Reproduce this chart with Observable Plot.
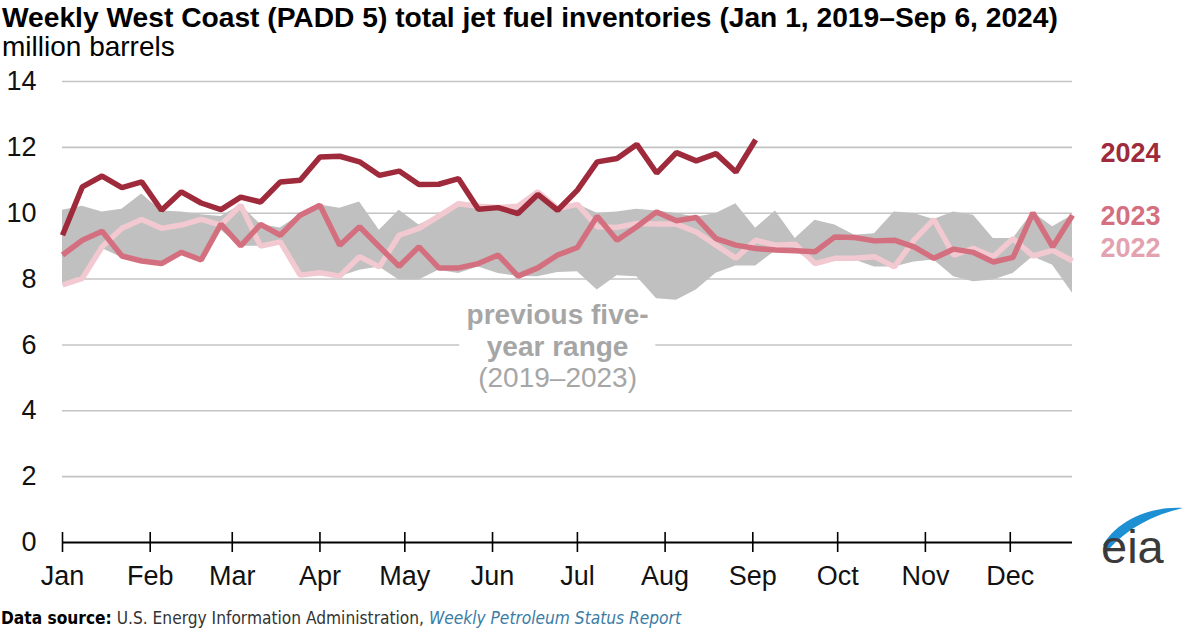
<!DOCTYPE html>
<html>
<head>
<meta charset="utf-8">
<script src="https://cdn.jsdelivr.net/npm/d3@7"></script>
<script src="https://cdn.jsdelivr.net/npm/@observablehq/plot@0.6"></script>
<style>
html, body { margin: 0; padding: 0; background: #fff; }
body { width: 1187px; height: 632px; position: relative; overflow: hidden; font-family: "Liberation Sans", Arial, sans-serif; }
#title { position: absolute; left: 2px; top: 3px; font-size: 28.2px; font-weight: bold; line-height: 29px; color: #000; white-space: nowrap; }
#subtitle { position: absolute; left: 2px; top: 32px; font-size: 28px; line-height: 29px; color: #000; white-space: nowrap; }
#chart { position: absolute; left: 0; top: 61px; }
#source { position: absolute; left: 1px; top: 607px; font-family: "Liberation Sans Narrow", "DejaVu Sans Condensed", "Roboto Condensed", "DejaVu Sans", sans-serif; font-size: 17.2px; line-height: 22px; color: #333; white-space: nowrap; }
#source b { color: #000; }
#source i { color: #3a7ca5; }
#logo { position: absolute; left: 1101px; top: 524px; font-size: 47px; line-height: 46px; color: #3a3a3a; }
#swoosh { position: absolute; left: 0; top: 0; }
</style>
</head>
<body>
<div id="title">Weekly West Coast (PADD 5) total jet fuel inventories (Jan 1, 2019–Sep 6, 2024)</div>
<div id="subtitle">million barrels</div>
<div id="chart"></div>
<div id="source"><b>Data source:</b> U.S. Energy Information Administration, <i>Weekly Petroleum Status Report</i></div>
<svg id="swoosh" width="1187" height="632"><path d="M1103,545 C1118,520 1150,506 1183,508 C1152,515 1127,529 1109,549 Z" fill="#1d8fd3"/></svg>
<div id="logo">eia</div>
<script>
// ---- data (million barrels, weekly) ----
const series2024 = [9.33,10.80,11.13,10.78,10.95,10.09,10.65,10.31,10.11,10.49,10.34,10.95,11.00,
  11.71,11.73,11.56,11.15,11.28,10.87,10.88,11.05,10.12,10.17,9.99,10.57,10.09,
  10.70,11.56,11.66,12.09,11.22,11.84,11.59,11.81,11.25,12.23];
const series2023 = [8.73,9.18,9.45,8.70,8.55,8.47,8.81,8.58,9.67,9.01,9.66,9.33,9.94,
  10.24,9.03,9.59,8.98,8.39,8.98,8.34,8.34,8.47,8.73,8.09,8.34,8.73,
  8.96,9.91,9.18,9.59,10.04,9.77,9.87,9.23,9.03,8.93,8.88,8.86,
  8.83,9.28,9.26,9.16,9.18,8.98,8.63,8.91,8.81,8.52,8.66,10.01,8.98,9.94];
const series2022 = [7.82,8.02,8.98,9.54,9.81,9.54,9.64,9.81,9.64,10.24,9.00,9.13,8.12,
  8.19,8.09,8.68,8.37,9.33,9.54,9.91,10.29,10.21,10.17,10.21,10.65,10.14,
  10.27,9.59,9.57,9.69,9.67,9.67,9.43,9.03,8.63,9.18,9.03,9.06,
  8.47,8.63,8.63,8.68,8.37,9.18,9.81,8.73,8.93,8.68,9.23,8.70,8.87,8.55];
const rangeHigh = [10.09,10.21,10.04,10.12,10.58,10.07,10.04,9.95,9.90,10.25,9.66,9.55,9.95,
  10.25,10.15,10.34,9.48,10.09,9.64,9.94,10.29,10.21,10.17,10.21,10.65,10.14,
  10.27,10.00,10.04,10.12,10.07,9.99,9.88,9.99,10.29,9.54,10.07,9.23,9.79,
  9.64,9.33,9.38,10.04,9.99,9.81,10.04,9.94,9.23,9.23,10.02,9.59,9.94];
const rangeLow = [7.82,8.00,8.93,8.65,8.50,8.47,8.80,8.58,9.48,9.00,9.00,9.13,8.05,
  8.17,8.07,8.27,8.37,7.97,7.97,8.27,8.17,8.37,8.17,8.08,8.07,8.20,
  8.22,7.67,8.10,8.07,7.40,7.36,7.67,8.18,8.40,8.40,8.85,8.85,8.47,
  8.63,8.58,8.37,8.37,8.52,8.58,8.07,7.92,7.97,8.17,8.68,8.42,7.57];
const seriesNames = ["2022", "2023", "2024"];
const seriesColors = ["#f3c9d1", "#d46f7f", "#9e2a3b"];
const labelColors = ["#e3a2b0", "#d46f7f", "#9e2a3b"];
const labelValues = [8.94, 9.91, 11.82];
const monthLabels = ["Jan","Feb","Mar","Apr","May","Jun","Jul","Aug","Sep","Oct","Nov","Dec"];
const yTicks = [0, 2, 4, 6, 8, 10, 12, 14];
const yTickLabels = ["0", "2", "4", "6", "8", "10", "12", "14"];
const noteBold = ["previous five-", "year range"];
const noteRegular = ["(2019–2023)"];
const noteValues = [6.91, 5.94, 5.0];

// ---- derived tables ----
const start = Date.UTC(2024, 0, 1);
const weekDate = (i) => d3.utcDay.offset(new Date(start), 7 * i);
const weeks = d3.range(52).map(weekDate);
const bandRows = weeks.map((d, i) => ({date: d, low: rangeLow[i], high: rangeHigh[i]}));
const allSeries = [series2022, series2023, series2024];
const lineRows = allSeries.flatMap((s, k) => s.map((v, i) => ({date: weeks[i], value: v, year: seriesNames[k]})));
const monthDates = d3.utcMonth.range(new Date(start), new Date(Date.UTC(2025, 0, 1)));
const noteX = new Date(Date.UTC(2024, 5, 24));
const labelRows = seriesNames.map((n, k) => ({name: n, value: labelValues[k], color: labelColors[k]}));
const boldRows = noteBold.map((t, i) => ({text: t, value: noteValues[i]}));
const regRows = noteRegular.map((t, i) => ({text: t, value: noteValues[2 + i]}));
const lastWeek = weeks[weeks.length - 1];

const chart = Plot.plot({
  width: 1187,
  height: 533,
  marginLeft: 62,
  marginRight: 115,
  marginTop: 20,
  marginBottom: 52,
  x: {type: "utc", domain: [weeks[0], lastWeek], label: null},
  y: {domain: [0, 14], label: null},
  color: {domain: seriesNames, range: seriesColors},
  style: {fontFamily: "'Liberation Sans', Arial, sans-serif", background: "white", overflow: "visible"},
  marks: [
    Plot.ruleY(yTicks.filter((d) => d > 0), {stroke: "#c4c4c4", strokeWidth: 1.6}),
    Plot.areaY(bandRows, {x: "date", y1: "low", y2: "high", fill: "#c0c0c0", curve: "linear"}),
    // white halos behind the annotation
    Plot.text(boldRows, {x: () => noteX, y: "value", text: "text", fontSize: 28, fontWeight: "bold", fill: "white", stroke: "white", strokeWidth: 20, strokeLinejoin: "round"}),
    Plot.text(boldRows.slice(1), {x: () => noteX, y: "value", text: "text", fontSize: 28, fontWeight: "bold", fill: "white", stroke: "white", strokeWidth: 56, strokeLinejoin: "round"}),
    Plot.text(regRows, {x: () => noteX, y: "value", text: "text", fontSize: 28, fill: "white", stroke: "white", strokeWidth: 20, strokeLinejoin: "round"}),
    Plot.text(boldRows, {x: () => noteX, y: "value", text: "text", fontSize: 28, fontWeight: "bold", fill: "#a6a6a6"}),
    Plot.text(regRows, {x: () => noteX, y: "value", text: "text", fontSize: 28, fill: "#a6a6a6"}),
    Plot.line(lineRows, {x: "date", y: "value", z: "year", stroke: "year", strokeWidth: 5.5, strokeLinejoin: "miter", strokeLinecap: "butt"}),
    Plot.ruleY([0], {stroke: "#000", strokeWidth: 2}),
    Plot.axisX(monthDates, {tickSize: 20, dy: -10, fill: "none", stroke: "#000", strokeWidth: 1.6, label: null}),
    Plot.axisX(monthDates, {tickSize: 0, tickPadding: 23, fontSize: 27, fill: "#111", tickFormat: (d) => monthLabels[d.getUTCMonth()], label: null}),
    Plot.axisY(yTicks, {tickSize: 0, tickPadding: 26, fontSize: 27, fill: "#111", tickFormat: (d) => yTickLabels[yTicks.indexOf(d)], label: null}),
    Plot.text(labelRows, {x: () => lastWeek, y: "value", text: "name", fill: "color", dx: 28, textAnchor: "start", fontSize: 27, fontWeight: "bold"})
  ]
});
document.getElementById("chart").appendChild(chart);
</script>
</body>
</html>
